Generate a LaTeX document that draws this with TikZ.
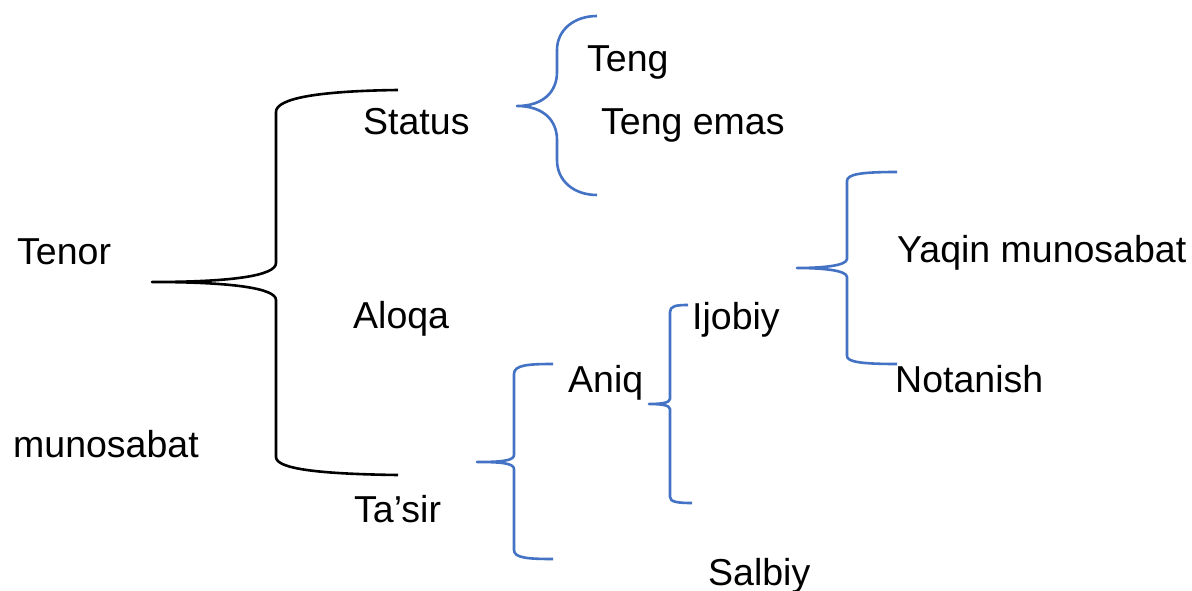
\documentclass[tikz,border=0pt]{standalone}
\usepackage{fontspec}
\setmainfont{Liberation Sans}
\begin{document}
\begin{tikzpicture}[x=1pt,y=-1pt,
    lbl/.style={anchor=base west,inner sep=0pt,font=\fontsize{37.5}{42}\selectfont},
    bracemain/.style={draw=black,line width=2.6pt,line join=round},
    bracesub/.style={draw=braceblue,line width=2.6pt,line join=round}]
\definecolor{braceblue}{HTML}{4472C4}
\useasboundingbox[fill=white] (0,0) rectangle (1192,591);

% labels
\node[lbl] (tenor)  at (17,264)  {Tenor};
\node[lbl] (munos)  at (13,457)  {munosabat};
\node[lbl] (status) at (363,135) {Status};
\node[lbl] (aloqa)  at (353,328) {Aloqa};
\node[lbl] (tasir)  at (354,522) {Ta’sir};
\node[lbl] (teng)   at (587,72)  {Teng};
\node[lbl] (tengem) at (601,135) {Teng emas};
\node[lbl] (aniq)   at (568,392) {Aniq};
\node[lbl] (ijobiy) at (692,329) {Ijobiy};
\node[lbl] (salbiy) at (708,585) {Salbiy};
\node[lbl] (yaqin)  at (897,262) {Yaqin munosabat};
\node[lbl] (notan)  at (895,392) {Notanish};

% tips and free ends of the braces
\coordinate (m0) at (152,282);  \coordinate (m1) at (398,90);  \coordinate (m2) at (398,475);
\coordinate (s0) at (517,106);  \coordinate (s1) at (597,16);  \coordinate (s2) at (597,195);
\coordinate (t0) at (477,462);  \coordinate (t1) at (553,364); \coordinate (t2) at (553,559);
\coordinate (a0) at (649,404);  \coordinate (a1) at (688,305); \coordinate (a2) at (692,503);
\coordinate (y0) at (797,268);  \coordinate (y1) at (897,172); \coordinate (y2) at (897,364);

% Tenor munosabat: Status / Aloqa / Ta'sir
\draw[bracemain] (m1) .. controls (320,91) and (276,98) .. (276,112) -- (276,263)
   .. controls (276,276) and (230,282) .. (m0)
   .. controls (230,282) and (276,288) .. (276,300) -- (276,457)
   .. controls (276,469) and (320,474) .. (m2);

% Status: Teng / Teng emas
\draw[bracesub] (s1) .. controls (574,16) and (557,30) .. (557,50) -- (557,72)
   .. controls (557,92) and (543,106) .. (s0)
   .. controls (543,106) and (557,120) .. (557,140) -- (557,160)
   .. controls (557,181) and (574,195) .. (s2);

% Ta'sir: Aniq / Salbiy
\draw[bracesub] (t1) .. controls (528,364) and (514,365) .. (514,374) -- (514,455)
   .. controls (514,461) and (500,462) .. (t0)
   .. controls (500,462) and (514,463) .. (514,469) -- (514,550)
   .. controls (514,558) and (528,559) .. (t2);

% Aniq: Ijobiy
\draw[bracesub] (a1) .. controls (676,305) and (670,306) .. (670,312) -- (670,399)
   .. controls (670,403) and (660,404) .. (a0)
   .. controls (660,404) and (670,405) .. (670,409) -- (670,497)
   .. controls (670,502) and (678,503) .. (a2);

% Ijobiy: Yaqin munosabat / Notanish
\draw[bracesub] (y1) .. controls (862,172) and (847,174) .. (847,181) -- (847,259)
   .. controls (847,266) and (820,268) .. (y0)
   .. controls (820,268) and (847,270) .. (847,277) -- (847,356)
   .. controls (847,362) and (862,364) .. (y2);
\end{tikzpicture}
\end{document}
